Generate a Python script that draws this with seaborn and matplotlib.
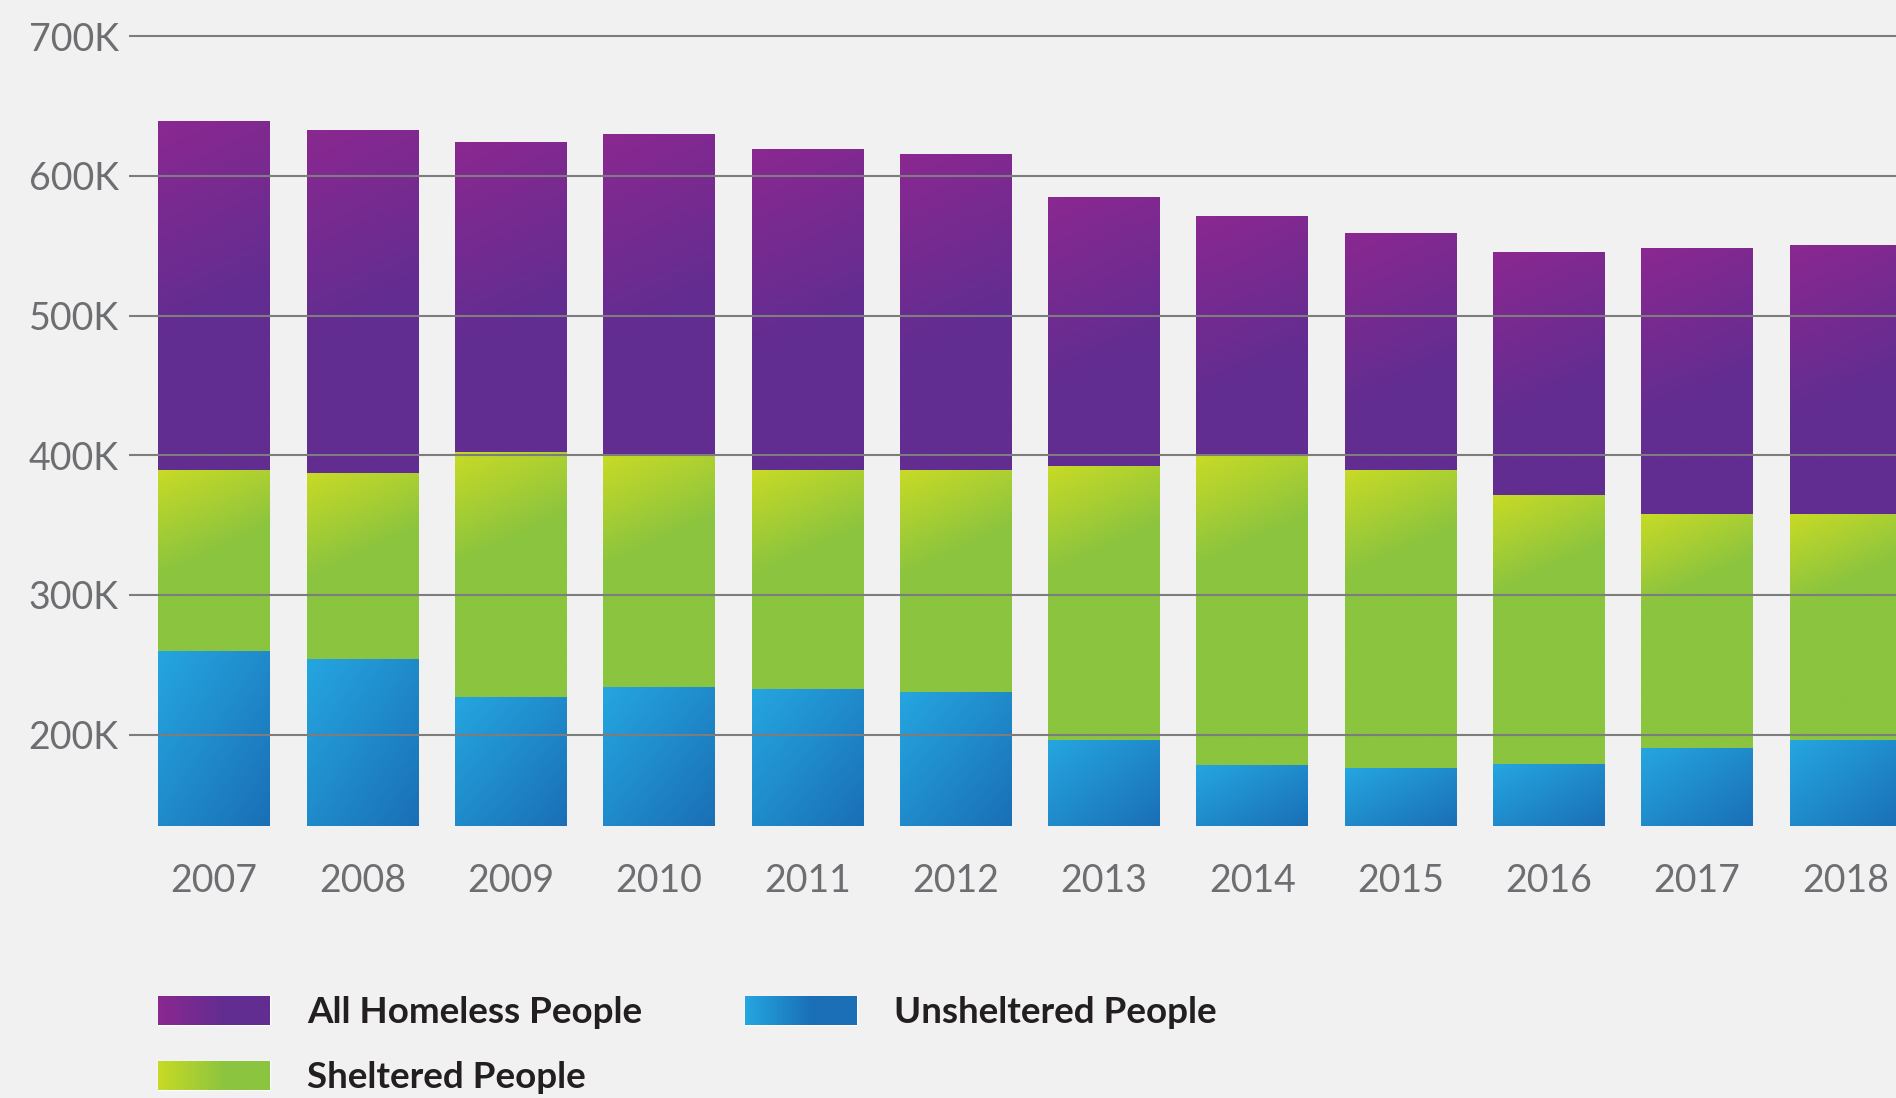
import numpy as np
import pandas as pd
import matplotlib
matplotlib.use("Agg")
import matplotlib.pyplot as plt
import seaborn as sns
from matplotlib.colors import to_rgb
from matplotlib.patches import Patch

# ---- data (thousands of people) ----
years = ["2007", "2008", "2009", "2010", "2011", "2012",
         "2013", "2014", "2015", "2016", "2017", "2018"]
all_homeless = [639.1, 632.6, 624.0, 629.8, 619.2, 615.4,
                584.6, 570.9, 558.8, 545.4, 548.0, 550.2]
sheltered = [389.3, 387.2, 402.1, 399.0, 389.4, 389.4,
             392.1, 398.8, 389.1, 371.2, 357.8, 357.8]
unsheltered = [259.8, 254.1, 226.6, 233.6, 232.5, 230.1,
               195.9, 177.8, 175.7, 178.6, 189.8, 195.5]
y_ticks = [200, 300, 400, 500, 600, 700]
series_labels = ["All Homeless People", "Sheltered People", "Unsheltered People"]

# ---- style ----
BG = "#f1f1f1"
GRID = "#7d7d7d"
TICK_C = "#6d6e71"
TEXT_C = "#231f20"
PURPLE = ("#8a2890", "#622d90")
GREEN = ("#c8da26", "#8bc43f")
BLUE = ("#25a6e0", "#1a6fb6")

sns.set_theme(style="white")
plt.rcParams["font.family"] = ["Lato", "DejaVu Sans"]

W, H = 1896, 1098
fig = plt.figure(figsize=(W / 100, H / 100), dpi=100, facecolor=BG)
ax = fig.add_axes([129 / W, 272 / H, 1 - 129 / W, 1 - 272 / H])
ax.set_facecolor(BG)

df = pd.DataFrame({"year": years, "all": all_homeless,
                   "sheltered": sheltered, "unsheltered": unsheltered})

BAR_W = 0.753
for col, cols in [("all", PURPLE), ("sheltered", GREEN), ("unsheltered", BLUE)]:
    sns.barplot(data=df, x="year", y=col, color=cols[1], width=BAR_W,
                saturation=1, errorbar=None, ax=ax, linewidth=0)

YMIN, YMAX = 134.6, 726.0
XMIN, XMAX = -0.5745, 11.341
ax.set_xlim(XMIN, XMAX)
ax.set_ylim(YMIN, YMAX)

PX_PER_K = (H - 272) / (YMAX - YMIN)
PX_PER_X = (W - 129) / (XMAX - XMIN)


def grad_img(c0, c1, t):
    a = np.array(to_rgb(c0)); b = np.array(to_rgb(c1))
    return a[None, None, :] * (1 - t[..., None]) + b[None, None, :] * t[..., None]


n = len(years)
groups = [(PURPLE, "top"), (GREEN, "top"), (BLUE, "diag")]
for gi, (cols, mode) in enumerate(groups):
    for p in ax.patches[gi * n:(gi + 1) * n]:
        x0, w = p.get_x(), p.get_width()
        top = p.get_y() + p.get_height()
        bot = max(p.get_y(), YMIN)
        wpx = w * PX_PER_X
        hpx = (top - bot) * PX_PER_K
        ny, nx = 200, 60
        v = np.linspace(0, 1, ny)[:, None] * hpx
        u = np.linspace(0, 1, nx)[None, :] * wpx
        if mode == "top":
            L = 0.30 * hpx
            t = np.clip((v + 0.45 * u) / L, 0, 1)
        else:
            t = np.clip(0.5 * u / wpx + 0.5 * v / hpx, 0, 1)
        img = grad_img(cols[0], cols[1], t)
        ax.imshow(img, extent=(x0, x0 + w, bot, top), aspect="auto",
                  origin="upper", interpolation="bilinear", zorder=1.1 + gi * 0.1)

ax.set_xlim(XMIN, XMAX)
ax.set_ylim(YMIN, YMAX)

ax.set_yticks(y_ticks)
ax.set_yticklabels([f"{v}K" for v in y_ticks])
ax.set_axisbelow(False)
ax.yaxis.grid(True, color=GRID, linewidth=1.5)
ax.xaxis.grid(False)
for s in ax.spines.values():
    s.set_visible(False)
ax.tick_params(axis="y", length=0, pad=7.5, labelsize=27, labelcolor=TICK_C)
ax.tick_params(axis="x", length=0, pad=27, labelsize=27, labelcolor=TICK_C)
ax.set_xlabel("")
ax.set_ylabel("")

# ---- legend ----
handles = [Patch(facecolor=PURPLE[1], label=series_labels[0]),
           Patch(facecolor=GREEN[1], label=series_labels[1]),
           Patch(facecolor=BLUE[1], label=series_labels[2])]
fs = 26.5
fs_px = fs * 100 / 72
leg = fig.legend(handles=handles, loc="upper left",
                 bbox_to_anchor=(158 / W, 1 - 996 / H), ncol=2,
                 frameon=False, borderpad=0, borderaxespad=0,
                 handlelength=112 / fs_px, handleheight=30 / fs_px,
                 handletextpad=37 / fs_px, columnspacing=103 / fs_px,
                 labelspacing=0.88,
                 prop={"family": ["Lato", "DejaVu Sans"], "weight": "bold", "size": fs})
for t in leg.get_texts():
    t.set_color(TEXT_C)

fig.canvas.draw()
inv = fig.transFigure.inverted()
for h, cols in zip(leg.legend_handles, [PURPLE, GREEN, BLUE]):
    bb = h.get_window_extent()
    (fx0, fy0), (fx1, fy1) = inv.transform([[bb.x0, bb.y0], [bb.x1, bb.y1]])
    sax = fig.add_axes([fx0, fy0, fx1 - fx0, fy1 - fy0])
    sax.set_zorder(10)
    u = np.linspace(0, 1, 100)[None, :].repeat(10, axis=0)
    sax.imshow(grad_img(cols[0], cols[1], np.clip(u / 0.6, 0, 1)),
               aspect="auto", extent=(0, 1, 0, 1), interpolation="bilinear")
    sax.set_xlim(0, 1)
    sax.set_ylim(0, 1)
    sax.set_axis_off()

fig.savefig("out.png", dpi=100, facecolor=BG)
